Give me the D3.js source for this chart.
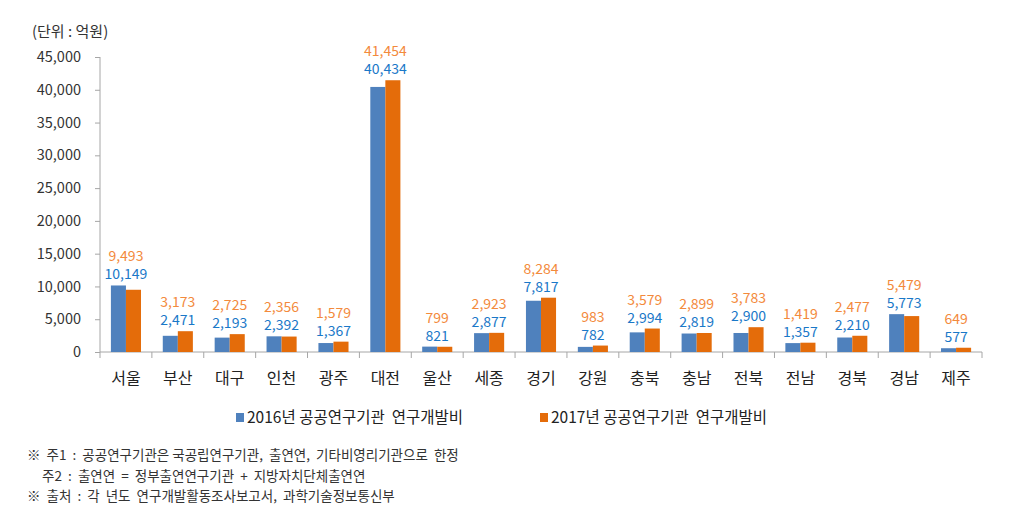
<!DOCTYPE html>
<html>
<head>
<meta charset="utf-8">
<script src="https://cdn.jsdelivr.net/npm/d3@7"></script>
<style>
  body { margin: 0; background: #fff; }
  text { font-family: "Noto Sans CJK KR", "Noto Sans", sans-serif; }
</style>
</head>
<body>
<div id="chart"></div>
<script>
// regions (x axis)
var regions = ["서울", "부산", "대구", "인천", "광주", "대전", "울산", "세종", "경기",
  "강원", "충북", "충남", "전북", "전남", "경북", "경남", "제주"];
// 공공연구기관 연구개발비 (억원)
var rd2016 = [10149, 2471, 2193, 2392, 1367, 40434, 821, 2877, 7817, 782, 2994, 2819, 2900, 1357, 2210, 5773, 577];
var rd2017 = [9493, 3173, 2725, 2356, 1579, 41454, 799, 2923, 8284, 983, 3579, 2899, 3783, 1419, 2477, 5479, 649];
var seriesNames = ["2016년 공공연구기관  연구개발비", "2017년 공공연구기관  연구개발비"];
var yTicks = [0, 5000, 10000, 15000, 20000, 25000, 30000, 35000, 40000, 45000];
var notes = [
  "※  주1  :  공공연구기관은 국공립연구기관,  출연연,  기타비영리기관으로  한정",
  "     주2  :  출연연  =  정부출연연구기관  +  지방자치단체출연연",
  "※  출처  :  각  년도  연구개발활동조사보고서,  과학기술정보통신부"
];

var W = 1016, H = 528;
var barColors = ["#4F81BD", "#E46C0A"];
var labelColors = ["#1A78C8", "#F38A3C"];

var svg = d3.select("#chart").append("svg")
  .attr("width", W).attr("height", H);

var x0 = d3.scaleBand().domain(regions).range([100, 982]);
var bw = x0.bandwidth();
var groupW = bw * 0.58;
var x1 = d3.scaleBand().domain([0, 1]).range([(bw - groupW) / 2, (bw + groupW) / 2]);
var y = d3.scaleLinear().domain([0, 45000]).range([352, 57]);

var fmt = d3.format(",");

// unit
svg.append("text").attr("x", 32).attr("y", 37)
  .style("font-size", "15px").attr("fill", "#333")
  .attr("xml:space", "preserve").style("white-space", "pre")
  .text("(단위 : 억원)");

// y axis
var yAxis = svg.append("g").attr("transform", "translate(100,0)")
  .call(d3.axisLeft(y).tickValues(yTicks).tickFormat(fmt).tickSize(5).tickPadding(14));
yAxis.selectAll("line, path").attr("stroke", "#A6A6A6");
yAxis.select(".domain").attr("d", "M0," + y(45000) + "V" + y(0));
yAxis.selectAll("text").style("font-size", "14.5px").attr("fill", "#333");

// x axis line + category ticks at boundaries
var xg = svg.append("g");
xg.append("line").attr("x1", 100).attr("x2", 982).attr("y1", y(0)).attr("y2", y(0))
  .attr("stroke", "#A6A6A6");
xg.selectAll("line.tk").data(regions.concat(["end"])).enter().append("line")
  .attr("class", "tk")
  .attr("x1", function (d, i) { return i < regions.length ? x0(d) : 982; })
  .attr("x2", function (d, i) { return i < regions.length ? x0(d) : 982; })
  .attr("y1", y(0)).attr("y2", y(0) + 6)
  .attr("stroke", "#A6A6A6");
xg.selectAll("text").data(regions).enter().append("text")
  .attr("x", function (d) { return x0(d) + bw / 2; })
  .attr("y", 384)
  .attr("text-anchor", "middle")
  .style("font-size", "16px").attr("fill", "#222")
  .text(function (d) { return d; });

// bars
var data = regions.map(function (r, i) { return { region: r, vals: [rd2016[i], rd2017[i]] }; });
var groups = svg.selectAll("g.grp").data(data).enter().append("g")
  .attr("class", "grp")
  .attr("transform", function (d) { return "translate(" + x0(d.region) + ",0)"; });

groups.selectAll("rect").data(function (d) { return d.vals; }).enter().append("rect")
  .attr("x", function (d, i) { return x1(i); })
  .attr("width", x1.bandwidth())
  .attr("y", function (d) { return y(d); })
  .attr("height", function (d) { return y(0) - y(d); })
  .attr("fill", function (d, i) { return barColors[i]; });

// value labels: 2016 above the taller bar, 2017 stacked above it
groups.each(function (d) {
  var top = y(d3.max(d.vals));
  var g = d3.select(this);
  g.append("text").attr("x", bw / 2).attr("y", top - 6)
    .attr("text-anchor", "middle").style("font-size", "14px")
    .attr("fill", labelColors[0]).text(fmt(d.vals[0]));
  g.append("text").attr("x", bw / 2).attr("y", top - 24)
    .attr("text-anchor", "middle").style("font-size", "14px")
    .attr("fill", labelColors[1]).text(fmt(d.vals[1]));
});

// legend
var legX = [236, 540];
var leg = svg.selectAll("g.leg").data(seriesNames).enter().append("g")
  .attr("class", "leg")
  .attr("transform", function (d, i) { return "translate(" + legX[i] + ",413)"; });
leg.append("rect").attr("width", 8).attr("height", 9)
  .attr("fill", function (d, i) { return barColors[i]; });
leg.append("text").attr("x", 11).attr("y", 10)
  .style("font-size", "15.5px").attr("fill", "#222")
  .style("white-space", "pre").attr("xml:space", "preserve")
  .text(function (d) { return d; });

// notes
svg.selectAll("text.note").data(notes).enter().append("text")
  .attr("class", "note")
  .attr("x", 27)
  .attr("y", function (d, i) { return 460 + i * 20.5; })
  .attr("xml:space", "preserve")
  .style("white-space", "pre")
  .style("font-size", "13.5px").attr("fill", "#333")
  .text(function (d) { return d; });
</script>
</body>
</html>
